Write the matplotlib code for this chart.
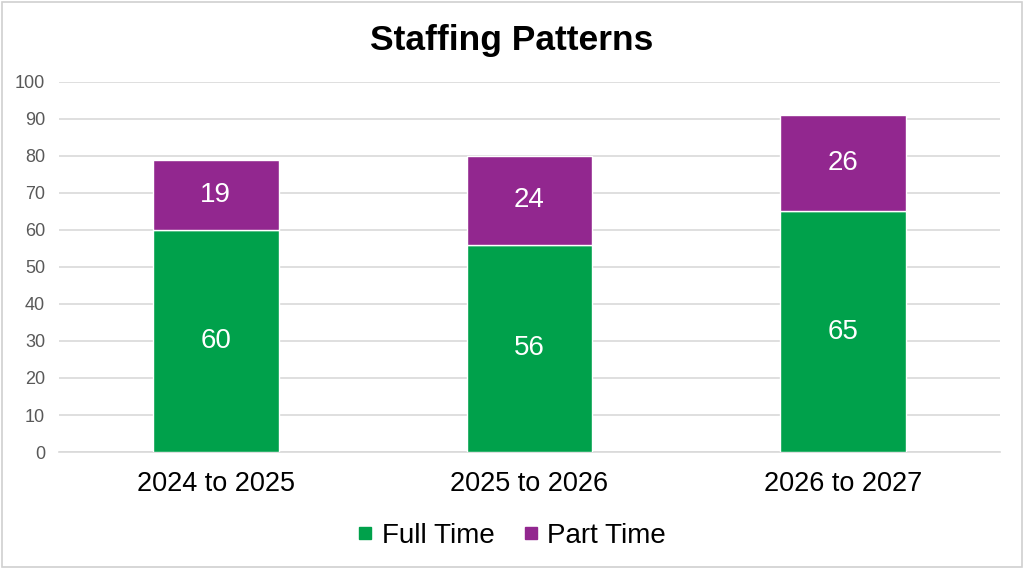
import matplotlib.pyplot as plt
from matplotlib.patches import Rectangle
from matplotlib.lines import Line2D

plt.rcParams['font.family'] = ['Liberation Sans', 'DejaVu Sans']

years = ["2024 to 2025", "2025 to 2026", "2026 to 2027"]
full_time = [60, 56, 65]
part_time = [19, 24, 26]

green = "#00A14B"
purple = "#92278F"

fig = plt.figure(figsize=(10.24, 5.69), dpi=100)
ax = fig.add_axes([0.0576, 0.2056, 0.919, 0.6504])

x = range(len(years))
b1 = ax.bar(x, full_time, width=0.4, color=green, edgecolor="white", linewidth=1, zorder=3)
b2 = ax.bar(x, part_time, width=0.4, bottom=full_time, color=purple, edgecolor="white", linewidth=1, zorder=3)

ax.bar_label(b1, label_type="center", color="white", fontsize=20)
ax.bar_label(b2, label_type="center", color="white", fontsize=20)

ax.set_xlim(-0.5, 2.5)
ax.set_ylim(0, 100)
ax.set_yticks(range(0, 101, 10))
ax.set_xticks(list(x))
ax.set_xticklabels(years, fontsize=19.5)
ax.tick_params(axis="y", labelsize=13, labelcolor="#595959", length=0, pad=10)
ax.tick_params(axis="x", length=0, pad=14)
ax.grid(axis="y", color="#D9D9D9", linewidth=1.2, zorder=0)
for s in ["top", "right", "left"]:
    ax.spines[s].set_visible(False)
ax.spines["bottom"].set_color("#D9D9D9")
ax.spines["bottom"].set_linewidth(1.2)

fig.suptitle("Staffing Patterns", fontsize=25.5, fontweight="bold", y=0.958)

# square legend markers like the original
handles = [Line2D([], [], marker="s", linestyle="", color=green, markersize=8),
           Line2D([], [], marker="s", linestyle="", color=purple, markersize=8)]
fig.legend(handles, ["Full Time", "Part Time"], loc="center", bbox_to_anchor=(0.5, 0.058),
           ncol=2, frameon=False, fontsize=20, handlelength=0.5,
           handletextpad=0.35, columnspacing=1.05)

fig.patches.append(Rectangle((0.002, 0.003), 0.996, 0.994, transform=fig.transFigure,
                             fill=False, edgecolor="#D0D0D0", linewidth=1.2))

fig.savefig("out.png", dpi=100)
